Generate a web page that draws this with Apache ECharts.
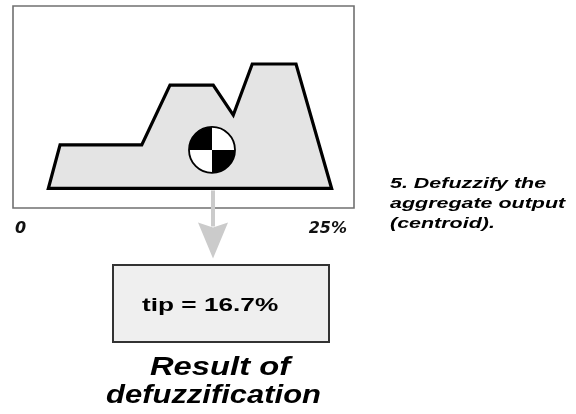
<!DOCTYPE html>
<html>
<head>
<meta charset="utf-8">
<script src="https://cdn.jsdelivr.net/npm/echarts@6/dist/echarts.min.js"></script>
<style>html,body{margin:0;padding:0;background:#fff}#c{width:576px;height:414px}</style>
</head>
<body>
<div id="c"></div>
<script>
// ---- data ----
const xTicks = [0, 25];
const xTickLabels = ['0', '25%'];
const shapeX = [2.59, 3.45, 9.44, 11.51, 14.68, 16.15, 17.54, 20.75, 23.36];
const shapeY = [0, 0.35, 0.35, 0.83, 0.83, 0.59, 1.0, 1.0, 0];
const centroidX = [14.59];
const centroidY = [0.31];
const resultLabel = 'tip = 16.7%';
const captionLines = ['5. Defuzzify the', 'aggregate output', '(centroid).'];
const footerLines = ['Result of', 'defuzzification'];

const chart = echarts.init(document.getElementById('c'), null, {renderer: 'canvas'});

const shapeData = shapeX.map((x, i) => [x, shapeY[i]]);
const centroidData = centroidX.map((x, i) => [x, centroidY[i]]);

const option = {
  backgroundColor: '#ffffff',
  animation: false,
  grid: {left: 13, right: 222, top: 6, bottom: 206, show: true, borderColor: '#707070', borderWidth: 1.6, backgroundColor: 'transparent'},
  xAxis: {
    type: 'value', min: 0, max: 25, interval: 25,
    axisLine: {show: false}, axisTick: {show: false}, splitLine: {show: false},
    axisLabel: {
      show: true, margin: 13, fontFamily: 'DejaVu Sans', fontStyle: 'italic', fontWeight: 'bold',
      fontSize: 16, color: '#111', alignMinLabel: 'left', alignMaxLabel: 'right',
      padding: [0, 7, 0, 2],
      formatter: v => { const i = xTicks.indexOf(v); return i >= 0 ? xTickLabels[i] : ''; }
    }
  },
  yAxis: {
    type: 'value', min: -0.157, max: 1.466, show: false,
    axisLine: {show: false}, axisTick: {show: false}, splitLine: {show: false}, axisLabel: {show: false}
  },
  series: [
    {
      type: 'custom', name: 'aggregate', data: shapeData,
      encode: {x: 0, y: 1},
      renderItem: function (params, api) {
        if (params.dataIndex !== 0) return null;
        const pts = shapeData.map(p => api.coord(p));
        return {
          type: 'polygon',
          shape: {points: pts},
          style: {fill: '#e4e4e4', stroke: '#000', lineWidth: 3.2, lineJoin: 'miter'}
        };
      }
    },
    {
      type: 'custom', name: 'centroid', data: centroidData,
      encode: {x: 0, y: 1},
      renderItem: function (params, api) {
        const c = api.coord([api.value(0), api.value(1)]);
        const b = api.coord([api.value(0), 0]);
        const r = 23;
        const ax = c[0] + 1;
        const gray = '#cbcbcb';
        return {
          type: 'group',
          children: [
            {type: 'rect', shape: {x: ax - 2, y: b[1] + 2, width: 4, height: 36}, style: {fill: gray}},
            {type: 'polygon', shape: {points: [[ax - 15, b[1] + 34], [ax, b[1] + 39], [ax + 15, b[1] + 34], [ax, b[1] + 70]]}, style: {fill: gray}},
            {type: 'circle', shape: {cx: c[0], cy: c[1], r: r}, style: {fill: '#fff'}},
            {type: 'sector', shape: {cx: c[0], cy: c[1], r0: 0, r: r, startAngle: Math.PI, endAngle: Math.PI * 1.5, clockwise: true}, style: {fill: '#000'}},
            {type: 'sector', shape: {cx: c[0], cy: c[1], r0: 0, r: r, startAngle: 0, endAngle: Math.PI * 0.5, clockwise: true}, style: {fill: '#000'}},
            {type: 'circle', shape: {cx: c[0], cy: c[1], r: r}, style: {fill: 'none', stroke: '#000', lineWidth: 1.8}}
          ]
        };
      }
    }
  ],
  graphic: [
    {type: 'rect', shape: {x: 113, y: 265, width: 216, height: 77}, style: {fill: '#efefef', stroke: '#333', lineWidth: 2}},
    {type: 'text', x: 142, y: 306, scaleX: 1.38, style: {text: resultLabel, font: 'bold 19px "Liberation Sans"', fill: '#000', align: 'left', verticalAlign: 'middle'}},
    {type: 'text', x: 220, y: 367.7, scaleX: 1.26, style: {text: footerLines[0], font: 'italic bold 26px "Liberation Sans"', fill: '#000', align: 'center', verticalAlign: 'middle'}},
    {type: 'text', x: 213.5, y: 395.5, scaleX: 1.19, style: {text: footerLines[1], font: 'italic bold 26px "Liberation Sans"', fill: '#000', align: 'center', verticalAlign: 'middle'}},
    {type: 'text', x: 390, y: 183.6, scaleX: 1.43, style: {text: captionLines[0], font: 'bold italic 15px "Liberation Sans"', fill: '#000', align: 'left', verticalAlign: 'middle'}},
    {type: 'text', x: 390, y: 203.6, scaleX: 1.43, style: {text: captionLines[1], font: 'bold italic 15px "Liberation Sans"', fill: '#000', align: 'left', verticalAlign: 'middle'}},
    {type: 'text', x: 390, y: 223.6, scaleX: 1.43, style: {text: captionLines[2], font: 'bold italic 15px "Liberation Sans"', fill: '#000', align: 'left', verticalAlign: 'middle'}}
  ]
};
chart.setOption(option);
</script>
</body>
</html>
